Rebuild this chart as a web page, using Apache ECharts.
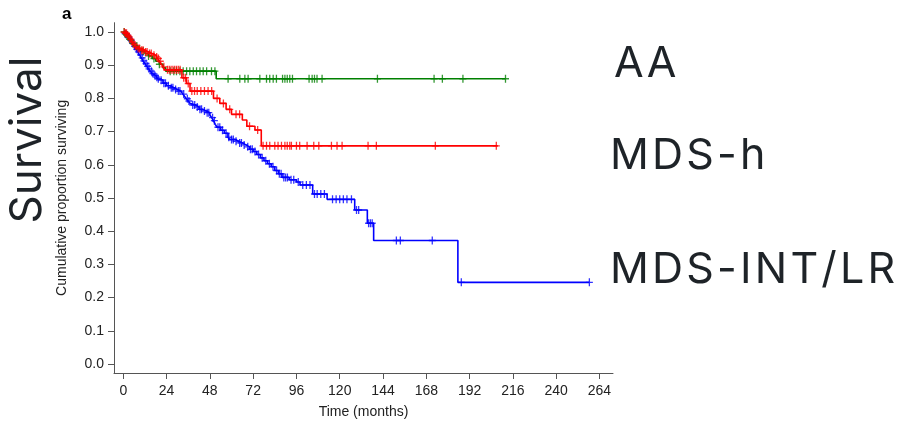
<!DOCTYPE html>
<html>
<head>
<meta charset="utf-8">
<script src="https://cdn.jsdelivr.net/npm/echarts@6/dist/echarts.min.js"></script>
<style>
  html, body { margin: 0; padding: 0; background: #fff; }
  #chart { width: 905px; height: 424px; }
</style>
</head>
<body>
<div id="chart"></div>
<script>
// Kaplan-Meier steps: [months, survival after the event]
const blueSteps = [
  [0, 1.0], [1, 0.995], [2, 0.99], [3, 0.983], [4, 0.975], [5, 0.966], [6, 0.957], [7, 0.948],
  [8, 0.94], [9, 0.931], [10, 0.922], [11, 0.913], [12, 0.905], [13, 0.897], [14, 0.889],
  [15, 0.882], [16, 0.875], [17, 0.869], [18, 0.864], [19, 0.859], [20, 0.855], [22, 0.846],
  [24, 0.838], [26, 0.832], [28, 0.827], [30, 0.822], [32, 0.818], [33, 0.813], [34, 0.806],
  [35, 0.799], [36, 0.792], [37, 0.785], [38, 0.78], [40, 0.774], [42, 0.767], [44, 0.762],
  [46, 0.757], [48, 0.75], [49, 0.742], [50, 0.733], [51, 0.722], [52, 0.713], [54, 0.704],
  [56, 0.695], [58, 0.683], [59, 0.676], [62, 0.671], [64, 0.666], [66, 0.66], [68, 0.654],
  [70, 0.647], [72, 0.64], [74, 0.631], [76, 0.621], [78, 0.612], [80, 0.603], [82, 0.594],
  [84, 0.583], [86, 0.573], [88, 0.562], [92, 0.555], [96, 0.548], [98, 0.539], [105, 0.512],
  [113, 0.496], [128.3, 0.464], [135.3, 0.424], [138.8, 0.372], [185.5, 0.246], [258.4, 0.246]
];
const redSteps = [
  [0, 1.0], [1, 0.996], [2, 0.99], [3, 0.985], [4, 0.978], [5, 0.97], [6, 0.963], [7, 0.956],
  [8, 0.95], [10, 0.945], [12, 0.94], [14, 0.935], [16, 0.93], [18, 0.925], [19, 0.92],
  [20, 0.912], [21, 0.905], [22, 0.895], [23, 0.886], [32.5, 0.862], [35, 0.845], [37, 0.822],
  [50, 0.8], [53.5, 0.785], [57, 0.767], [60, 0.752], [66, 0.735], [68.5, 0.716], [73, 0.705],
  [76.5, 0.657], [207.6, 0.657]
];
const greenSteps = [
  [0, 1.0], [1, 0.993], [2, 0.986], [3, 0.978], [4, 0.972], [5, 0.965], [6, 0.958], [8, 0.95],
  [10, 0.943], [12, 0.935], [14, 0.928], [16, 0.92], [18, 0.912], [20, 0.903], [22, 0.892],
  [23.5, 0.882], [51.5, 0.859], [212, 0.859]
];

// censored observations (months)
const blueCensor = [
  1, 2.2, 3.1, 4.4, 5.2, 6.3, 7.5, 8.4, 9.6, 10.5, 11.4, 12.6, 13.5, 14.3, 15.6, 16.4, 17.5,
  18.6, 19.4, 21, 22.5, 23.4, 25, 26.6, 27.5, 29, 30.5, 31.4, 33.5, 35.5, 36.4, 38.5, 39.6,
  41, 42.5, 43.4, 45, 46.5, 47.4, 49.5, 50.5, 52.5, 53.5, 55, 57, 58.5, 60, 61, 62.5, 64.5,
  65.5, 67, 69, 70.5, 71.5, 73, 75, 77, 79, 81, 83, 85, 86.5, 87.5, 89, 90, 91, 93, 94.5,
  97, 99.5, 101.5, 103.5, 106, 107.5, 109.5, 111.5, 116, 118, 120, 122, 124, 126.5,
  129.3, 130.5, 136, 137, 138, 151.4, 153.6, 171.3, 187.4, 258.4
];
const redCensor = [
  0.5, 1.2, 1.8, 2.5, 3.3, 4.2, 5, 6, 7, 8.2, 9, 10.2, 11, 12.3, 13.2, 14.5, 15.5, 17, 18.5,
  19.5, 20.5, 22.5, 24.5, 25.5, 26.5, 27.5, 28.5, 29.5, 30.5, 31.5, 33.5, 34.5, 36, 38,
  39.5, 41, 43, 45, 47, 49, 52, 55.5, 59, 62.5, 64.5, 70, 74.5, 77.5, 79.4, 81.2, 84, 85.8,
  87.7, 89.6, 90.9, 92.3, 93.2, 96, 97.8, 101.9, 105.6, 108.4, 115.4, 118.5, 121.3, 135.7,
  140.3, 173, 206.8
];
const greenCensor = [
  0.5, 1.5, 2.5, 3.5, 5.5, 7.5, 11, 14, 17, 20, 26, 28, 29.5, 31.4, 33.2, 35.1, 36.9, 38.8,
  40.6, 42.5, 44.3, 46.2, 48.9, 50.8, 58.1, 64.6, 67.4, 69.2, 75.7, 79.4, 81.2, 83.1, 84.9,
  88.3, 89.6, 90.9, 92.3, 93.8, 103, 104.7, 106, 107.4, 110.2, 140.9, 172.3, 176.9, 188.3,
  211.9
];

const xTicks = [0, 24, 48, 72, 96, 120, 144, 168, 192, 216, 240, 264];
const yTicks = [0, 0.1, 0.2, 0.3, 0.4, 0.5, 0.6, 0.7, 0.8, 0.9, 1.0];
const groupNames = ['AA', 'MDS-h', 'MDS-INT/LR'];

// survival value of a step curve at time t
function survAt(steps, t) {
  let s = steps[0][1];
  for (const p of steps) {
    if (p[0] <= t) s = p[1];
  }
  return s;
}

const plusMark = 'path://M3.1,0h1.4v8h-1.4zM0,3.3h7.6v1.4h-7.6z';

function kmSeries(name, steps, censor, color, z) {
  return [
    {
      name: name,
      type: 'line',
      step: 'end',
      data: steps,
      showSymbol: false,
      symbol: 'none',
      lineStyle: { color: color, width: 1.6 },
      z: z,
      silent: true
    },
    {
      name: name,
      type: 'scatter',
      data: censor.map(t => [t, survAt(steps, t)]),
      symbol: plusMark,
      symbolSize: [7, 8],
      itemStyle: { color: color },
      z: z,
      silent: true
    }
  ];
}

// big group label with a bit of letter spacing (rich text tokens)
const bigFont = '43px Inter, sans-serif';
function spacedLabel(text, x, y) {
  return {
    type: 'text', x: x, y: y,
    style: {
      text: text.split('').map(c => '{s|' + c + '}').join(''),
      fill: '#1e2328',
      verticalAlign: 'middle',
      rich: { s: { font: bigFont, fill: '#1e2328', padding: [0, 3.2, 0, 0] } }
    }
  };
}

const chart = echarts.init(document.getElementById('chart'), null, { renderer: 'canvas' });

const axisText = { fontFamily: '"Liberation Sans", Arial, sans-serif', fontSize: 14, color: '#222' };

chart.setOption({
  animation: false,
  backgroundColor: '#fff',
  grid: { left: 114, right: 292, top: 22.7, bottom: 50.5 },
  xAxis: {
    type: 'value',
    min: -5.15,
    max: 271.5,
    name: 'Time (months)',
    nameLocation: 'middle',
    nameGap: 32,
    nameTextStyle: { ...axisText },
    axisLine: { show: true, onZero: false, lineStyle: { color: '#555', width: 1 } },
    axisTick: { show: true, customValues: xTicks, length: 6, lineStyle: { color: '#555' } },
    axisLabel: { customValues: xTicks, margin: 11, ...axisText },
    splitLine: { show: false }
  },
  yAxis: {
    type: 'value',
    min: -0.0271,
    max: 1.028,
    name: 'Cumulative proportion surviving',
    nameLocation: 'middle',
    nameGap: 45,
    nameTextStyle: { ...axisText },
    axisLine: { show: true, onZero: false, lineStyle: { color: '#555', width: 1 } },
    axisTick: { show: true, customValues: yTicks, length: 6, lineStyle: { color: '#555' } },
    axisLabel: { customValues: yTicks, margin: 10, formatter: v => v.toFixed(1), ...axisText },
    splitLine: { show: false }
  },
  graphic: [
    {
      type: 'text', left: 62, top: 6,
      style: { text: 'a', font: 'bold 17px "Liberation Sans", Arial, sans-serif', fill: '#000' }
    },
    {
      type: 'text', x: 28, y: 140, rotation: Math.PI / 2,
      style: { text: 'Survival', font: '44px Inter, sans-serif', fill: '#1e2328', align: 'center', verticalAlign: 'middle' }
    },
    spacedLabel(groupNames[0], 614, 64),
    spacedLabel(groupNames[1], 610, 156),
    spacedLabel(groupNames[2], 610, 270)
  ],
  series: [
    ...kmSeries(groupNames[2], blueSteps, blueCensor, '#0000ff', 2),
    ...kmSeries(groupNames[0], greenSteps, greenCensor, '#008000', 3),
    ...kmSeries(groupNames[1], redSteps, redCensor, '#ff0000', 4)
  ]
});
</script>
</body>
</html>
